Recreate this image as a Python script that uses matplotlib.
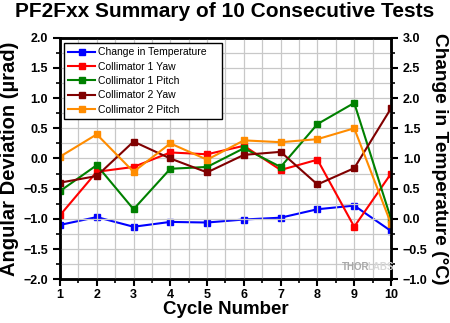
import numpy as np
import matplotlib.pyplot as plt
from matplotlib.ticker import MultipleLocator

plt.rcParams['font.family'] = ['Liberation Sans', 'DejaVu Sans']
plt.rcParams['font.weight'] = 'bold'

cycles = [1, 2, 3, 4, 5, 6, 7, 8, 9, 10]
temp_change = [-0.10, 0.03, -0.13, -0.05, -0.06, -0.01, 0.02, 0.16, 0.22, -0.20]
coll1_yaw = [-0.94, -0.22, -0.14, 0.10, 0.07, 0.21, -0.19, -0.02, -1.13, -0.25]
coll1_pitch = [-0.54, -0.11, -0.84, -0.17, -0.14, 0.17, -0.14, 0.57, 0.92, -1.00]
coll2_yaw = [-0.40, -0.29, 0.28, 0.00, -0.23, 0.06, 0.11, -0.43, -0.16, 0.83]
coll2_pitch = [0.03, 0.40, -0.22, 0.25, -0.02, 0.30, 0.27, 0.32, 0.50, -1.08]

fig = plt.figure(figsize=(4.5, 3.23), dpi=100)
ax = fig.add_axes([0.1333, 0.1353, 0.7356, 0.748])
ax2 = ax.twinx()

ms = 4.5
lw = 1.5
# temperature goes on the right axis
l0, = ax2.plot(cycles, temp_change, color='#0000ff', marker='s', ms=ms, lw=lw, label='Change in Temperature')
l1, = ax.plot(cycles, coll1_yaw, color='#ff0000', marker='s', ms=ms, lw=lw, label='Collimator 1 Yaw')
l2, = ax.plot(cycles, coll1_pitch, color='#008000', marker='s', ms=ms, lw=lw, label='Collimator 1 Pitch')
l3, = ax.plot(cycles, coll2_yaw, color='#800000', marker='s', ms=ms, lw=lw, label='Collimator 2 Yaw')
l4, = ax.plot(cycles, coll2_pitch, color='#ff8c00', marker='s', ms=ms, lw=lw, label='Collimator 2 Pitch')

ax.set_xlim(1, 10)
ax.set_ylim(-2, 2)
ax2.set_ylim(-1, 3)
ax.xaxis.set_major_locator(MultipleLocator(1))
ax.xaxis.set_minor_locator(MultipleLocator(0.5))
ax.yaxis.set_major_locator(MultipleLocator(0.5))
ax.yaxis.set_minor_locator(MultipleLocator(0.25))
ax2.yaxis.set_major_locator(MultipleLocator(0.5))
ax2.yaxis.set_minor_locator(MultipleLocator(0.25))
ax.grid(True, which='both', color='#c8c8c8', lw=0.9)
ax.set_axisbelow(True)

for a in (ax, ax2):
    for s in a.spines.values():
        s.set_linewidth(1.8)
    a.tick_params(which='major', direction='out', length=5, width=1.5, labelsize=9)
    a.tick_params(which='minor', direction='out', length=3, width=1.2)
ax.tick_params(axis='x', pad=2)

ax.set_xlabel('Cycle Number', fontsize=13.5, fontweight='bold', labelpad=0)
ax.set_ylabel('Angular Deviation (µrad)', fontsize=14.5, fontweight='bold', labelpad=3)
ax2.set_ylabel('Change in Temperature (°C)', fontsize=13.8, fontweight='bold', rotation=270, labelpad=15)
fig.suptitle('PF2Fxx Summary of 10 Consecutive Tests', fontsize=15, fontweight='bold', y=0.995)

leg = ax.legend(handles=[l0, l1, l2, l3, l4], loc='upper left', prop={'weight': 'normal', 'size': 7.5},
                fancybox=False, edgecolor='black', framealpha=1, borderpad=0.4, labelspacing=0.42,
                handlelength=2.6, handletextpad=0.3, mode='expand', borderaxespad=0,
                bbox_to_anchor=(0.012, 0.0, 0.477, 0.978))
leg.get_frame().set_linewidth(1.0)
leg.set_zorder(10)
ax.set_zorder(ax2.get_zorder() + 1)
ax.patch.set_visible(False)

# watermark
ax.text(0.852, 0.03, 'THOR', transform=ax.transAxes, ha='left', va='bottom',
        fontsize=7, fontweight='bold', color='#a8a8a8')
ax.text(0.928, 0.03, 'LABS', transform=ax.transAxes, ha='left', va='bottom',
        fontsize=7, fontweight='bold', color='#d8d8d8')

fig.savefig('out.png', dpi=100)
